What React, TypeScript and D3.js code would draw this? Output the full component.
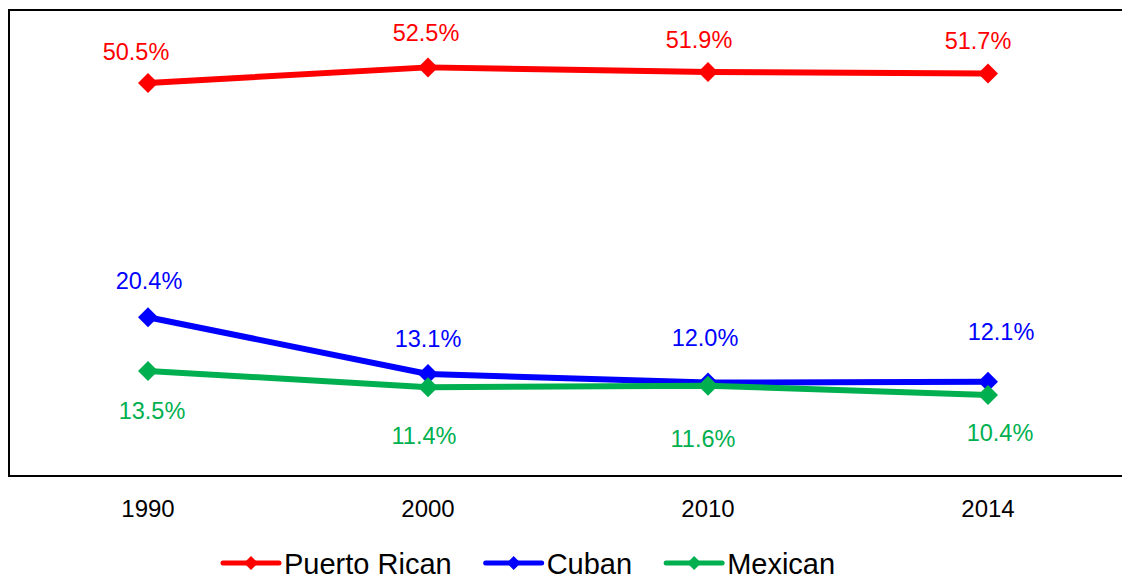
import React, { useEffect, useRef } from "react";
import * as d3 from "d3";

const years = ["1990", "2000", "2010", "2014"];
const seriesNames = ["Puerto Rican", "Cuban", "Mexican"];
const puertoRican = [50.5, 52.5, 51.9, 51.7];
const cuban = [20.4, 13.1, 12.0, 12.1];
const mexican = [13.5, 11.4, 11.6, 10.4];
const colors = ["#FF0000", "#0000FF", "#00B050"];

// label placement (dx, baseline dy relative to point)
const labelDx = [
  [-12, -2, -9, -10],
  [1, 0, -3, 13],
  [4, -4, -5, 12],
];
const labelDy = [
  [-23, -26, -24, -25],
  [-28, -27, -37, -42],
  [48, 57, 61, 46],
];

const FONT = "'Liberation Sans', Arial, Helvetica, sans-serif";

export default function App() {
  const ref = useRef<SVGSVGElement | null>(null);

  useEffect(() => {
    const svg = d3.select(ref.current);
    svg.selectAll("*").remove();
    const data = [puertoRican, cuban, mexican];

    const x = d3.scaleBand<string>().domain(years).range([8, 1128]).padding(0);
    const y = d3.scaleLinear().domain([0, 60]).range([476, 9]);
    const cx = (yr: string) => (x(yr) as number) + x.bandwidth() / 2;

    // plot frame
    svg
      .append("rect")
      .attr("x", 9)
      .attr("y", 10)
      .attr("width", 1200)
      .attr("height", 466)
      .attr("fill", "none")
      .attr("stroke", "#000")
      .attr("stroke-width", 2);

    // x axis labels
    svg
      .append("g")
      .selectAll("text")
      .data(years)
      .join("text")
      .attr("x", (d) => cx(d))
      .attr("y", 517)
      .attr("text-anchor", "middle")
      .attr("font-family", FONT)
      .attr("font-size", 24)
      .attr("fill", "#000")
      .text((d) => d);

    const line = d3
      .line<number>()
      .x((_, i) => cx(years[i]))
      .y((d) => y(d));

    const diamond = (s: number) => `M0,${-s}L${s},0L0,${s}L${-s},0Z`;

    data.forEach((vals, si) => {
      const g = svg.append("g");
      g.append("path")
        .attr("d", line(vals) as string)
        .attr("fill", "none")
        .attr("stroke", colors[si])
        .attr("stroke-width", 6)
        .attr("stroke-linejoin", "round");
      g.selectAll("path.m")
        .data(vals)
        .join("path")
        .attr("class", "m")
        .attr("d", diamond(10))
        .attr("transform", (d, i) => `translate(${cx(years[i])},${y(d)})`)
        .attr("fill", colors[si]);
    });

    data.forEach((vals, si) => {
      svg
        .append("g")
        .selectAll("text")
        .data(vals)
        .join("text")
        .attr("x", (d, i) => cx(years[i]) + labelDx[si][i])
        .attr("y", (d, i) => y(d) + labelDy[si][i])
        .attr("text-anchor", "middle")
        .attr("font-family", FONT)
        .attr("font-size", 23.5)
        .attr("fill", colors[si])
        .text((d) => `${d.toFixed(1)}%`);
    });

    // legend
    const lg = svg.append("g");
    let lx = 223;
    const ly = 563;
    seriesNames.forEach((name, si) => {
      lg.append("line")
        .attr("x1", lx)
        .attr("x2", lx + 56)
        .attr("y1", ly)
        .attr("y2", ly)
        .attr("stroke", colors[si])
        .attr("stroke-width", 5)
        .attr("stroke-linecap", "round");
      lg.append("path")
        .attr("d", diamond(7))
        .attr("transform", `translate(${lx + 28},${ly})`)
        .attr("fill", colors[si]);
      const t = lg
        .append("text")
        .attr("x", lx + 61)
        .attr("y", 574)
        .attr("font-family", FONT)
        .attr("font-size", 29)
        .attr("fill", "#000")
        .text(name);
      const w = (t.node() as SVGTextElement).getComputedTextLength();
      lx = lx + 61 + w + 34;
    });
  }, []);

  return (
    <svg
      ref={ref}
      width={1122}
      height={580}
      style={{ position: "absolute", left: 0, top: 0, display: "block", background: "#fff" }}
    />
  );
}
